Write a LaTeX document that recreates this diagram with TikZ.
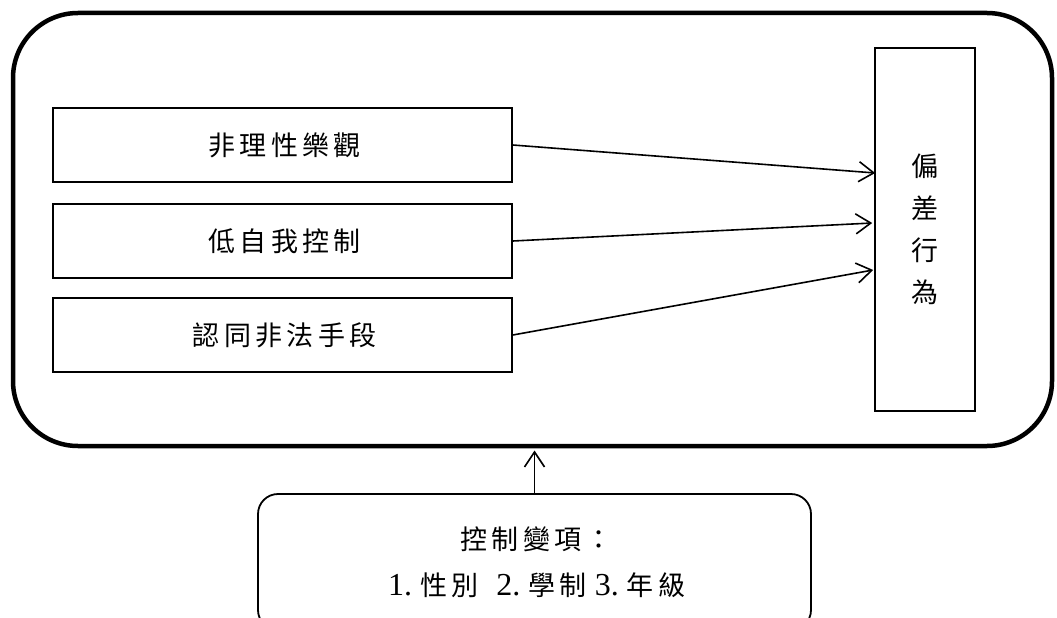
\documentclass[tikz,border=0pt]{standalone}
\usepackage{fontspec}
\setmainfont{Liberation Serif}
\newfontfamily\cjk[LetterSpace=16]{Noto Sans CJK TC}
\newfontfamily\cjkv{Noto Sans CJK TC}
\newfontfamily\dig{Liberation Serif}
\usetikzlibrary{arrows.meta}
\begin{document}
\begin{tikzpicture}[x=1pt,y=-1pt,
  box/.style={draw,line width=1.6pt,inner sep=0pt},
  arr/.style={line width=1.6pt,-{Straight Barb[length=15pt,width=20pt,line width=1.6pt]}},
  lab/.style={font=\cjk\fontsize{27}{30}\selectfont}]
\useasboundingbox (0,0) rectangle (1057,618);
\clip (0,0) rectangle (1057,618);
% outer frame
\node[draw,line width=4.5pt,rounded corners=65pt,minimum width=1039pt,minimum height=433pt,inner sep=0pt] (outer) at (532.5,229.5) {};
% left factor boxes
\node[box,lab,minimum width=459pt,minimum height=74pt] (a) at (282.5,145) {\hspace{4.3pt}非理性樂觀};
\node[box,lab,minimum width=459pt,minimum height=74pt] (b) at (282.5,241) {\hspace{4.3pt}低自我控制};
\node[box,lab,minimum width=459pt,minimum height=74pt] (c) at (282.5,335) {\hspace{4.3pt}認同非法手段};
% outcome box
\node[box,minimum width=100pt,minimum height=363pt,align=center,font=\cjkv\fontsize{27}{42}\selectfont] (r) at (925,229.5) {偏\\差\\行\\為};
% control variables box
\node[draw,line width=1.8pt,rounded corners=20pt,minimum width=553pt,minimum height=136pt,inner sep=0pt,align=center,font=\cjk\fontsize{27}{46}\selectfont] (ctrl) at (534.5,562)
  {\hspace{4.3pt}控制變項：\\\hspace{4.3pt}{\dig\fontsize{32}{46}\selectfont 1.}\hspace{8pt}性別\hspace{18pt}{\dig\fontsize{32}{46}\selectfont 2.}\hspace{8pt}學制\hspace{8pt}{\dig\fontsize{32}{46}\selectfont 3.}\hspace{8pt}年級};
% connectors
\draw[arr] (a.east) -- ([xshift=1pt,yshift=56.5pt]r.west);
\draw[arr] (b.east) -- ([xshift=-2pt,yshift=6.5pt]r.west);
\draw[arr] (c.east) -- ([xshift=-1pt,yshift=-40.5pt]r.west);
\draw[arr] (ctrl.north) -- ([yshift=-2.25pt]ctrl.north |- outer.south);
\end{tikzpicture}
\end{document}
